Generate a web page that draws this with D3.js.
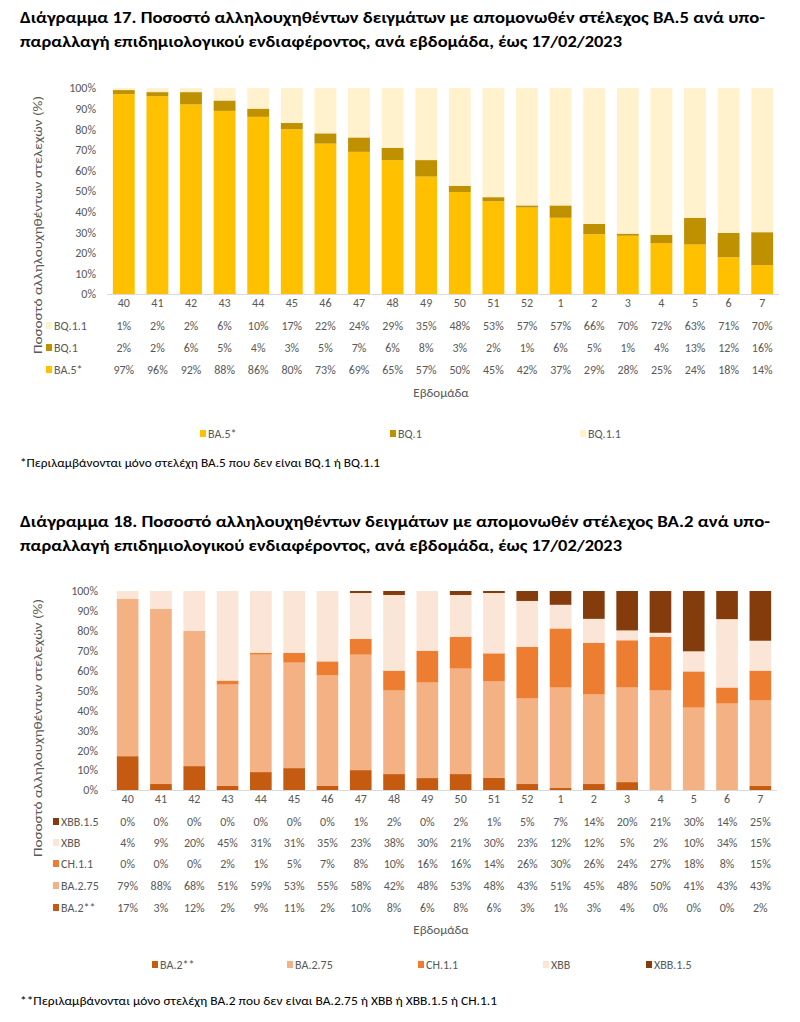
<!DOCTYPE html>
<html><head><meta charset="utf-8">
<script src="https://cdn.jsdelivr.net/npm/d3@7"></script>
<style>
body{margin:0;background:#fff;}
svg text{font-family:"Carlito","Lato","Open Sans","Noto Sans",sans-serif;}
</style></head>
<body><svg id="c" width="800" height="1022"></svg>
<script>
// ---- data ----
const weeks = ["40","41","42","43","44","45","46","47","48","49","50","51","52","1","2","3","4","5","6","7"];
const yTicks = [0,10,20,30,40,50,60,70,80,90,100];

// Chart 17
const ba5  = [97,96,92,88,86,80,73,69,65,57,50,45,42,37,29,28,25,24,18,14];
const bq1  = [2,2,6,5,4,3,5,7,6,8,3,2,1,6,5,1,4,13,12,16];
const bq11 = [1,2,2,6,10,17,22,24,29,35,48,53,57,57,66,70,72,63,71,70];
const names17 = ["BA.5*","BQ.1","BQ.1.1"];
const colors17 = ["#FFC000","#BF9000","#FFF2CC"];

// Chart 18
const ba2   = [17,3,12,2,9,11,2,10,8,6,8,6,3,1,3,4,0,0,0,2];
const ba275 = [79,88,68,51,59,53,55,58,42,48,53,48,43,51,45,48,50,41,43,43];
const ch11  = [0,0,0,2,1,5,7,8,10,16,16,14,26,30,26,24,27,18,8,15];
const xbb   = [4,9,20,45,31,31,35,23,38,30,21,30,23,12,12,5,2,10,34,15];
const xbb15 = [0,0,0,0,0,0,0,1,2,0,2,1,5,7,14,20,21,30,14,25];
const names18 = ["BA.2**","BA.2.75","CH.1.1","XBB","XBB.1.5"];
const colors18 = ["#C55A11","#F4B183","#ED7D31","#FBE5D6","#843C0C"];

const title17 = ["Διάγραμμα 17. Ποσοστό αλληλουχηθέντων δειγμάτων με απομονωθέν στέλεχος BA.5 ανά υπο-",
                 "παραλλαγή επιδημιολογικού ενδιαφέροντος, ανά εβδομάδα, έως 17/02/2023"];
const title18 = ["Διάγραμμα 18. Ποσοστό αλληλουχηθέντων δειγμάτων με απομονωθέν στέλεχος BA.2 ανά υπο-",
                 "παραλλαγή επιδημιολογικού ενδιαφέροντος, ανά εβδομάδα, έως 17/02/2023"];
const foot17 = "*Περιλαμβάνονται μόνο στελέχη BA.5 που δεν είναι BQ.1 ή BQ.1.1";
const foot18 = "**Περιλαμβάνονται μόνο στελέχη BA.2 που δεν είναι BA.2.75 ή XBB ή XBB.1.5 ή CH.1.1";
const yTitle = "Ποσοστό αλληλουχηθέντων στελεχών (%)";
const xTitle = "Εβδομάδα";

const svg = d3.select("#c");
const grey = "#595959";
const fs = 12;

function drawChart(cfg){
  const g = svg.append("g");
  // titles
  cfg.title.forEach((t,i)=>{
    g.append("text").attr("x",20).attr("y",cfg.titleY[i]).attr("font-size",15.5).attr("font-weight","bold")
     .attr("fill","#000").attr("textLength",cfg.titleW[i]).attr("lengthAdjust","spacingAndGlyphs").text(t);
  });
  const x = d3.scaleBand().domain(weeks).range([cfg.x0,cfg.x1]).paddingInner(0.35).paddingOuter(0.175);
  const y = d3.scaleLinear().domain([0,100]).range([cfg.yB,cfg.yT]);

  // stacked data (100% stacked)
  const rows = weeks.map((w,i)=>{
    const o = {week:w};
    let tot = 0;
    cfg.series.forEach(s=>{tot += s.values[i];});
    cfg.series.forEach(s=>{o[s.name] = s.values[i]/tot*100;});
    return o;
  });
  const stack = d3.stack().keys(cfg.series.map(s=>s.name));
  const layers = stack(rows);
  g.selectAll("g.layer").data(layers).enter().append("g")
   .attr("fill",(d,i)=>cfg.series[i].color)
   .selectAll("rect").data(d=>d).enter().append("rect")
   .attr("x",d=>x(d.data.week)).attr("width",x.bandwidth())
   .attr("y",d=>y(d[1])).attr("height",d=>Math.max(0,y(d[0])-y(d[1])));

  // y axis labels
  const ya = g.append("g").attr("transform",`translate(${cfg.yLabX},0)`)
    .call(d3.axisLeft(y).tickValues(yTicks).tickFormat(d=>d+"%").tickSize(0).tickPadding(0));
  ya.select(".domain").remove();
  ya.selectAll("text").attr("fill",grey).attr("font-size",fs).attr("font-family","Carlito, Lato, 'Open Sans', sans-serif");

  // x axis line + labels
  const xa = g.append("g").attr("transform",`translate(0,${cfg.yB})`)
    .call(d3.axisBottom(x).tickSize(0).tickPadding(4));
  xa.select(".domain").attr("stroke","#D9D9D9").attr("stroke-width",1).attr("d",`M${cfg.x0},0.5H${cfg.x1}`);
  xa.selectAll("text").attr("fill",grey).attr("font-size",fs).attr("font-family","Carlito, Lato, 'Open Sans', sans-serif");

  // data table
  const tableSeries = cfg.series.slice().reverse();
  tableSeries.forEach((s,r)=>{
    const ry = cfg.rowY[r];
    g.append("rect").attr("x",cfg.keyX).attr("y",ry-8).attr("width",6).attr("height",7).attr("fill",s.color);
    g.append("text").attr("x",cfg.keyX+8).attr("y",ry).attr("font-size",fs).attr("fill",grey).text(s.name);
    g.selectAll(null).data(s.values).enter().append("text")
     .attr("x",(d,i)=>x(weeks[i])+x.bandwidth()/2).attr("y",ry)
     .attr("text-anchor","middle").attr("font-size",fs).attr("fill",grey).text(d=>d+"%");
  });

  // x title
  g.append("text").attr("x",cfg.xTitleX).attr("y",cfg.xTitleY).attr("text-anchor","middle")
   .attr("font-size",13).attr("fill",grey).text(xTitle);
  // y title
  g.append("text").attr("transform",`translate(${cfg.yTitleX},${cfg.yTitleCY}) rotate(-90)`)
   .attr("text-anchor","middle").attr("font-size",12.5).attr("fill",grey)
   .attr("textLength",258).attr("lengthAdjust","spacingAndGlyphs").text(yTitle);

  // legend
  cfg.series.forEach((s,i)=>{
    const lx = cfg.legX[i];
    g.append("rect").attr("x",lx).attr("y",cfg.legY-8).attr("width",6).attr("height",7).attr("fill",s.color);
    g.append("text").attr("x",lx+8).attr("y",cfg.legY).attr("font-size",fs).attr("fill",grey).text(s.name);
  });

  // footnote
  g.append("text").attr("x",20).attr("y",cfg.footY).attr("font-size",12.5).attr("fill","#000")
   .attr("textLength",cfg.footW).attr("lengthAdjust","spacingAndGlyphs").text(cfg.foot);
}

drawChart({
  title:title17, titleY:[23,47], titleW:[745,602],
  series:[{name:names17[0],values:ba5,color:colors17[0]},
          {name:names17[1],values:bq1,color:colors17[1]},
          {name:names17[2],values:bq11,color:colors17[2]}],
  x0:107, x1:779, yT:88, yB:294, yLabX:96,
  rowY:[330,352,374], keyX:46,
  xTitleX:441, xTitleY:397, yTitleX:42, yTitleCY:225,
  legX:[200,390,580], legY:438,
  foot:foot17, footY:467, footW:360
});

drawChart({
  title:title18, titleY:[527,551], titleW:[750,602],
  series:[{name:names18[0],values:ba2,color:colors18[0]},
          {name:names18[1],values:ba275,color:colors18[1]},
          {name:names18[2],values:ch11,color:colors18[2]},
          {name:names18[3],values:xbb,color:colors18[3]},
          {name:names18[4],values:xbb15,color:colors18[4]}],
  x0:111, x1:777, yT:591, yB:790, yLabX:98,
  rowY:[826,847,868,890,912], keyX:53,
  xTitleX:441, xTitleY:934, yTitleX:42, yTitleCY:728,
  legX:[152,287,418,543,646], legY:969,
  foot:foot18, footY:1005, footW:477
});
</script></body></html>
